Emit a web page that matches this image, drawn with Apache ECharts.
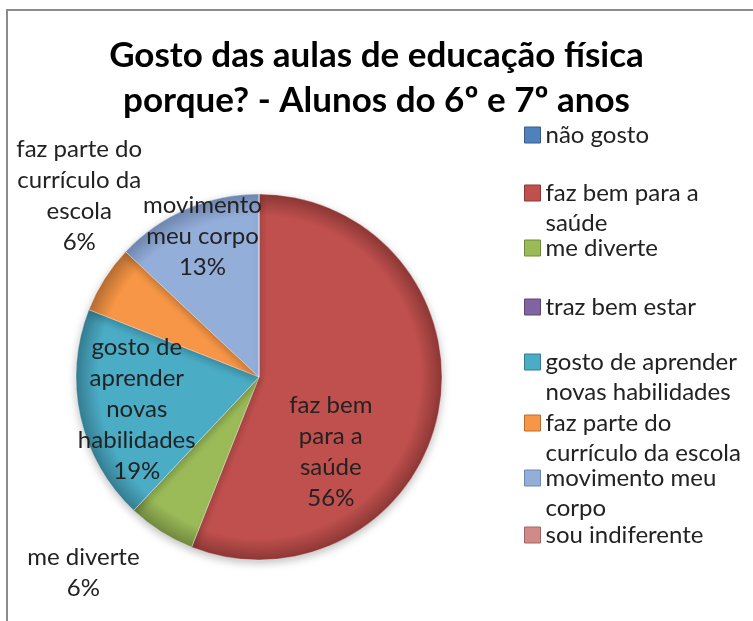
<!DOCTYPE html>
<html>
<head>
<meta charset="utf-8">
<script src="https://cdn.jsdelivr.net/npm/echarts@6/dist/echarts.min.js"></script>
<style>
html,body{margin:0;padding:0;background:#fff;}
#c{width:753px;height:621px;}
</style>
</head>
<body>
<div id="c"></div>
<script>
// ---- data ----
const categories = ['não gosto','faz bem para a saúde','me diverte','traz bem estar','gosto de aprender novas habilidades','faz parte do currículo da escola','movimento meu corpo','sou indiferente'];
const values = [0, 56, 6, 0, 19, 6, 13, 0];
const colors = ['#4F81BD','#C0504D','#9BBB59','#8064A2','#4BACC6','#F79646','#94AEDA','#D08A88'];
const edgeColors = ['#385D8A','#8C3836','#71893F','#5C4776','#357D91','#B66D31','#6F87AE','#A06664'];
const legendText = ['não gosto','faz bem para a\nsaúde','me diverte','traz bem estar','gosto de aprender\nnovas habilidades','faz parte do\ncurrículo da escola','movimento meu\ncorpo','sou indiferente'];
const sliceLabelText = [null,'faz bem\npara a\nsaúde\n56%','me diverte\n6%',null,'gosto de\naprender\nnovas\nhabilidades\n19%','faz parte do\ncurrículo da\nescola\n6%','movimento\nmeu corpo\n13%',null];

// ---- layout ----
const CX = 259, CY = 377, R = 183;
const FONT = 'Lato, "Open Sans", sans-serif';
const legendLineCenters = [135, 193, 248, 307, 362, 423, 478, 535];
const LH = 30;
const labelShift = {1:[-21,57], 2:[-125,116], 4:[-30,12], 5:[-100,-131], 6:[-19,-54]};

const chart = echarts.init(document.getElementById('c'), null, {renderer:'canvas'});

const pieData = categories.map((n,i)=>({
  name:n,
  value:values[i],
  itemStyle:{
    color:{type:'radial', x:CX, y:CY, r:R, global:true,
      colorStops:[{offset:0,color:colors[i]},{offset:0.88,color:colors[i]},{offset:1,color:edgeColors[i]}]}
  },
  label:{show: values[i] > 0, formatter: sliceLabelText[i] || ''}
}));

const legends = categories.map((n,i)=>{
  const twoLine = legendText[i].indexOf('\n') >= 0;
  // an empty leading line keeps the first text line centred on the icon
  const txt = twoLine ? '\u00a0\n' + legendText[i] : legendText[i];
  return {
    orient:'vertical',
    left:524,
    padding:0,
    top: twoLine ? legendLineCenters[i] - (LH*3)/2 : legendLineCenters[i] - LH/2,
    itemWidth:16, itemHeight:16, itemGap:0,
    icon:'rect',
    selectedMode:false,
    data:[{name:n, itemStyle:{color:colors[i], borderColor:edgeColors[i], borderWidth:1}}],
    formatter:()=>txt,
    textStyle:{fontFamily:FONT, fontSize:24, color:'#222', lineHeight:LH}
  };
});

chart.setOption({
  backgroundColor:'#fff',
  animation:false,
  title:{
    text:'Gosto das aulas de educação física\nporque? - Alunos do 6º e 7º anos',
    left:'center', top:33,
    padding:[0,14,0,0],
    textStyle:{fontFamily:FONT, fontSize:35, fontWeight:'bold', color:'#000', lineHeight:45}
  },
  legend: legends,
  graphic:[{type:'rect', shape:{x:7,y:10,width:800,height:700}, style:{fill:null, stroke:'#8c8c8c', lineWidth:2}, silent:true}],
  series:[{
    type:'pie',
    center:[CX,CY],
    radius:R,
    startAngle:90,
    clockwise:true,
    data:pieData,
    avoidLabelOverlap:false,
    itemStyle:{borderColor:'rgba(255,255,255,0.35)', borderWidth:1, shadowBlur:8, shadowColor:'rgba(0,0,0,0.25)', shadowOffsetY:3},
    label:{position:'inside', fontFamily:FONT, fontSize:24, color:'#222', lineHeight:31, align:'center'},
    labelLine:{show:false},
    emphasis:{disabled:true},
    labelLayout:(p)=>{
      const s = labelShift[p.dataIndex];
      return s ? {dx:s[0], dy:s[1]} : {};
    }
  }]
});
</script>
</body>
</html>
